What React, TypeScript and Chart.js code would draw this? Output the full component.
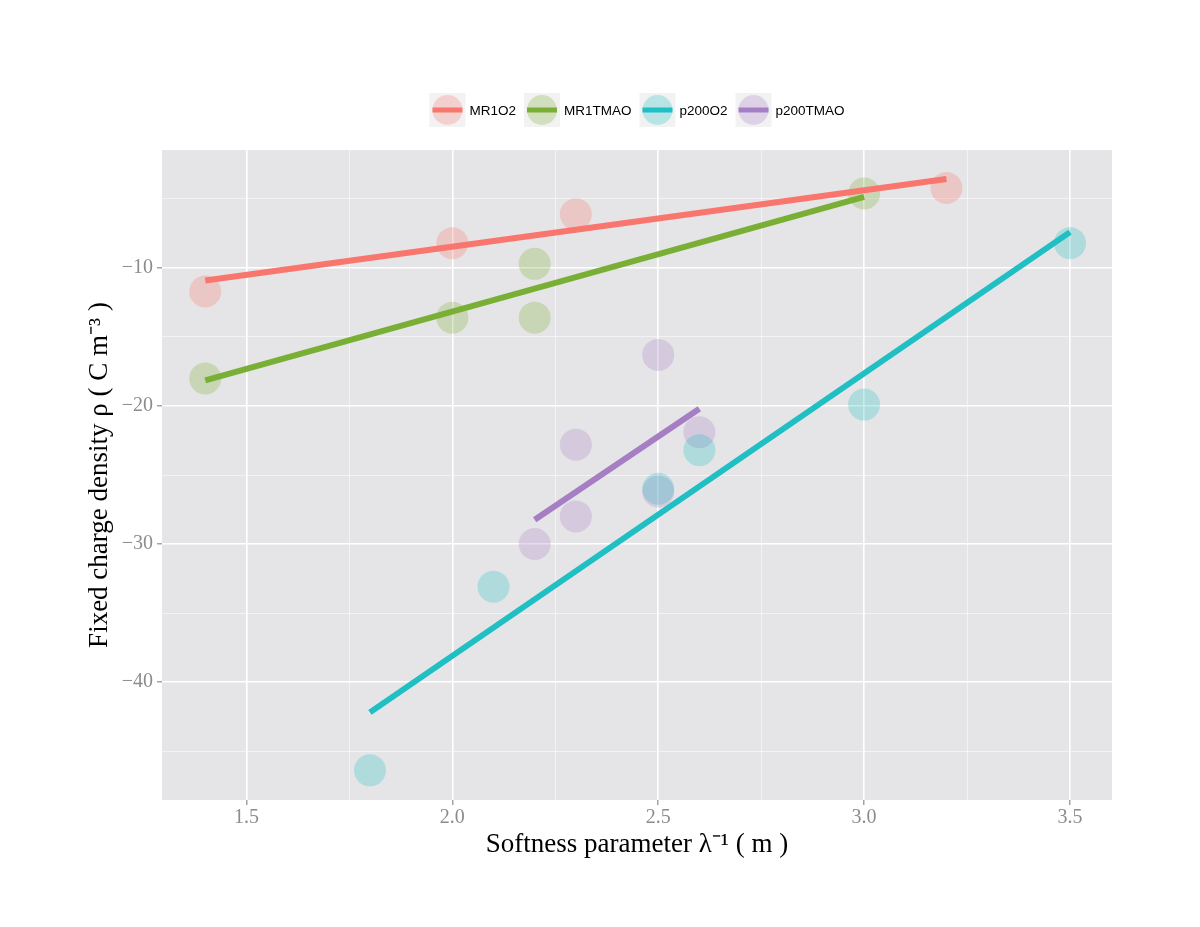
import React, { useEffect, useRef } from 'react';
import { Chart, registerables } from 'chart.js';

Chart.register(...registerables);

// ---- data ----
const seriesNames = ['MR1O2', 'MR1TMAO', 'p200O2', 'p200TMAO'];
const seriesColors = ['#F8766D', '#7AAF35', '#1FBFC4', '#A67EC3'];

const mr1o2X = [1.4, 2.0, 2.3, 3.2];
const mr1o2Y = [-11.7, -8.2, -6.1, -4.2];
const mr1tmaoX = [1.4, 2.0, 2.2, 2.2, 3.0];
const mr1tmaoY = [-18.0, -13.6, -9.7, -13.6, -4.6];
const p200o2X = [1.8, 2.1, 2.5, 2.6, 3.0, 3.5];
const p200o2Y = [-46.4, -33.1, -26.0, -23.2, -19.9, -8.2];
const p200tmaoX = [2.2, 2.3, 2.3, 2.5, 2.5, 2.6];
const p200tmaoY = [-30.0, -22.8, -28.0, -16.3, -26.2, -21.9];

// fitted line endpoints
const mr1o2FitX = [1.4, 3.2];
const mr1o2FitY = [-10.9, -3.55];
const mr1tmaoFitX = [1.4, 3.0];
const mr1tmaoFitY = [-18.15, -4.85];
const p200o2FitX = [1.8, 3.5];
const p200o2FitY = [-42.2, -7.4];
const p200tmaoFitX = [2.2, 2.6];
const p200tmaoFitY = [-28.25, -20.2];

const xMajorTicks = [1.5, 2.0, 2.5, 3.0, 3.5];
const xMinorTicks = [1.75, 2.25, 2.75, 3.25];
const yMajorTicks = [-40, -30, -20, -10];
const yMinorTicks = [-45, -35, -25, -15, -5];

const xTitle = 'Softness parameter λ⁻¹ ( m )';
const yTitle = 'Fixed charge density ρ ( C m⁻³ )';

const pointsX = [mr1o2X, mr1tmaoX, p200o2X, p200tmaoX];
const pointsY = [mr1o2Y, mr1tmaoY, p200o2Y, p200tmaoY];
const fitsX = [mr1o2FitX, mr1tmaoFitX, p200o2FitX, p200tmaoFitX];
const fitsY = [mr1o2FitY, mr1tmaoFitY, p200o2FitY, p200tmaoFitY];

function hexA(hex: string, a: number) {
  const r = parseInt(hex.slice(1, 3), 16);
  const g = parseInt(hex.slice(3, 5), 16);
  const b = parseInt(hex.slice(5, 7), 16);
  return `rgba(${r},${g},${b},${a})`;
}

const zip = (xs: number[], ys: number[]) => xs.map((x, i) => ({ x, y: ys[i] }));

const panelBg = {
  id: 'panelBg',
  beforeDraw(chart: any) {
    const { ctx, chartArea } = chart;
    const { left, top, right, bottom } = chartArea;
    ctx.save();
    ctx.fillStyle = '#E5E5E7';
    ctx.fillRect(left, top, right - left, bottom - top);
    ctx.restore();
  },
};

const ggLegend = {
  id: 'ggLegend',
  afterDraw(chart: any) {
    const ctx = chart.ctx;
    const { left, right } = chart.chartArea;
    ctx.save();
    ctx.font = '13.5px "Liberation Sans", Arial, sans-serif';
    const keyW = 36;
    const keyH = 34;
    const gapKT = 4;
    const gapItem = 8;
    const widths = seriesNames.map((n) => ctx.measureText(n).width);
    const total =
      widths.reduce((a, w) => a + keyW + gapKT + w, 0) + gapItem * (seriesNames.length - 1);
    let x = (left + right) / 2 - total / 2;
    const cy = 110;
    seriesNames.forEach((name, i) => {
      ctx.fillStyle = '#F2F2F2';
      ctx.fillRect(x, cy - keyH / 2, keyW, keyH);
      ctx.fillStyle = hexA(seriesColors[i], 0.27);
      ctx.beginPath();
      ctx.arc(x + keyW / 2, cy, 15, 0, Math.PI * 2);
      ctx.fill();
      ctx.strokeStyle = seriesColors[i];
      ctx.lineWidth = 5;
      ctx.beginPath();
      ctx.moveTo(x + 3, cy);
      ctx.lineTo(x + keyW - 3, cy);
      ctx.stroke();
      ctx.fillStyle = '#000';
      ctx.textBaseline = 'middle';
      ctx.textAlign = 'left';
      ctx.fillText(name, x + keyW + gapKT, cy + 1);
      x += keyW + gapKT + widths[i] + gapItem;
    });
    ctx.restore();
  },
};

const serif = '"Liberation Serif", "Times New Roman", serif';

export default function App() {
  const ref = useRef<HTMLCanvasElement | null>(null);

  useEffect(() => {
    if (!ref.current) return;
    const datasets: any[] = [];
    seriesNames.forEach((name, i) => {
      datasets.push({
        type: 'scatter',
        label: name + ' fit',
        data: zip(fitsX[i], fitsY[i]),
        showLine: true,
        borderColor: seriesColors[i],
        borderWidth: 6,
        pointRadius: 0,
        pointHoverRadius: 0,
        fill: false,
        order: 0,
      });
    });
    seriesNames.forEach((name, i) => {
      datasets.push({
        type: 'scatter',
        label: name,
        data: zip(pointsX[i], pointsY[i]),
        backgroundColor: hexA(seriesColors[i], 0.27),
        borderWidth: 0,
        pointRadius: 16,
        pointHoverRadius: 16,
        order: 1,
      });
    });

    const isMajorX = (v: number) => xMajorTicks.some((t) => Math.abs(t - v) < 1e-6);
    const isMajorY = (v: number) => yMajorTicks.some((t) => Math.abs(t - v) < 1e-6);

    const chart = new Chart(ref.current, {
      type: 'scatter',
      data: { datasets },
      plugins: [panelBg, ggLegend],
      options: {
        animation: false,
        responsive: false,
        layout: { padding: { top: 150, right: 88, bottom: 0, left: 0 } },
        plugins: { legend: { display: false }, tooltip: { enabled: false } },
        scales: {
          x: {
            type: 'linear',
            min: 1.295,
            max: 3.602,
            afterBuildTicks: (scale: any) => {
              scale.ticks = [...xMajorTicks, ...xMinorTicks]
                .sort((a, b) => a - b)
                .map((v) => ({ value: v }));
            },
            afterFit: (scale: any) => {
              scale.height = 127;
            },
            ticks: {
              autoSkip: false,
              maxRotation: 0,
              padding: 1,
              color: '#8c8c8c',
              font: { family: serif, size: 20 },
              callback: (v: any) => (isMajorX(Number(v)) ? Number(v).toFixed(1) : ''),
            },
            grid: {
              color: (c: any) => (c.tick && isMajorX(c.tick.value) ? '#FFFFFF' : 'rgba(255,255,255,0.6)'),
              lineWidth: (c: any) => (c.tick && isMajorX(c.tick.value) ? 1.6 : 0.9),
              tickColor: (c: any) => (c.tick && isMajorX(c.tick.value) ? '#8c8c8c' : 'rgba(0,0,0,0)'),
              tickLength: 5,
              tickWidth: 1.2,
            },
            border: { display: false },
            title: {
              display: true,
              text: xTitle,
              color: '#000',
              font: { family: serif, size: 27 },
              padding: { top: 0, bottom: 66 },
            },
          },
          y: {
            type: 'linear',
            min: -48.55,
            max: -1.45,
            afterBuildTicks: (scale: any) => {
              scale.ticks = [...yMajorTicks, ...yMinorTicks]
                .sort((a, b) => a - b)
                .map((v) => ({ value: v }));
            },
            afterFit: (scale: any) => {
              scale.width = 162;
            },
            ticks: {
              autoSkip: false,
              padding: 4,
              color: '#8c8c8c',
              font: { family: serif, size: 20 },
              callback: (v: any) =>
                isMajorY(Number(v)) ? (Number(v) < 0 ? '\u2212' : '') + Math.abs(Number(v)) : '',
            },
            grid: {
              color: (c: any) => (c.tick && isMajorY(c.tick.value) ? '#FFFFFF' : 'rgba(255,255,255,0.6)'),
              lineWidth: (c: any) => (c.tick && isMajorY(c.tick.value) ? 1.6 : 0.9),
              tickColor: (c: any) => (c.tick && isMajorY(c.tick.value) ? '#8c8c8c' : 'rgba(0,0,0,0)'),
              tickLength: 5,
              tickWidth: 1.2,
            },
            border: { display: false },
            title: {
              display: true,
              text: yTitle,
              color: '#000',
              font: { family: serif, size: 27 },
              padding: { top: 84, bottom: 0 },
            },
          },
        },
      } as any,
    });
    return () => chart.destroy();
  }, []);

  return (
    <div style={{ position: 'absolute', left: 0, top: 0, width: 1200, height: 927, background: '#fff' }}>
      <canvas ref={ref} width={1200} height={927} style={{ display: 'block' }} />
    </div>
  );
}
